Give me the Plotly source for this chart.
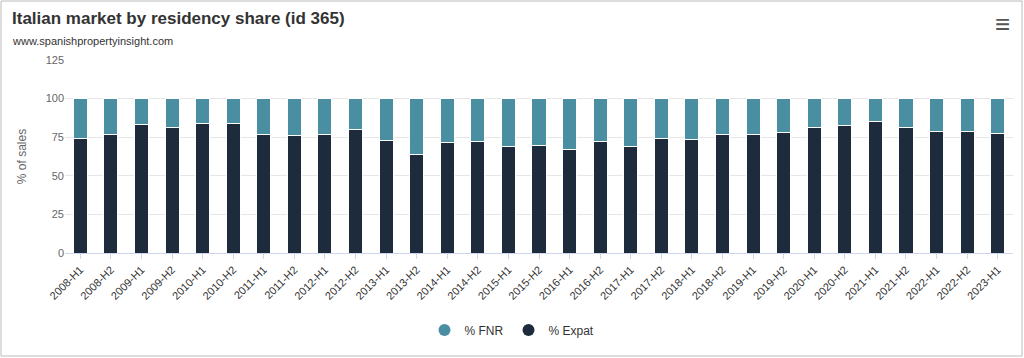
import plotly.graph_objects as go

categories = ["2008-H1","2008-H2","2009-H1","2009-H2","2010-H1","2010-H2","2011-H1","2011-H2",
              "2012-H1","2012-H2","2013-H1","2013-H2","2014-H1","2014-H2","2015-H1","2015-H2",
              "2016-H1","2016-H2","2017-H1","2017-H2","2018-H1","2018-H2","2019-H1","2019-H2",
              "2020-H1","2020-H2","2021-H1","2021-H2","2022-H1","2022-H2","2023-H1"]
expat = [74, 77, 83, 81, 84, 84, 77, 76, 77, 80, 73, 64, 71.5, 72, 69, 69.5,
         67, 72, 69, 74, 73.5, 77, 76.5, 78, 81, 82.5, 85, 81, 78.5, 78.5, 77.5]
fnr = [round(100 - v, 1) for v in expat]

C_EXPAT = "#1d2b3c"
C_FNR = "#4a8fa1"

fig = go.Figure()
fig.add_trace(go.Bar(x=categories, y=expat, name="% Expat", marker=dict(color=C_EXPAT, line=dict(color="#ffffff", width=1)), showlegend=False))
fig.add_trace(go.Bar(x=categories, y=fnr, name="% FNR", marker=dict(color=C_FNR, line=dict(color="#ffffff", width=1)), showlegend=False))
# legend entries with circle symbols
fig.add_trace(go.Scatter(x=[None], y=[None], mode="markers", name="% FNR", marker=dict(color=C_FNR, size=12, symbol="circle")))
fig.add_trace(go.Scatter(x=[None], y=[None], mode="markers", name="% Expat", marker=dict(color=C_EXPAT, size=12, symbol="circle")))

L, R, T, B = 65, 11, 60, 105
W, H = 1024, 358
pw, ph = W - L - R, H - T - B

fig.update_layout(
    width=W, height=H,
    margin=dict(l=L, r=R, t=T, b=B, autoexpand=False),
    barmode="stack", bargap=0.54,
    plot_bgcolor="white", paper_bgcolor="white",
    font=dict(family="Liberation Sans, Arial, sans-serif", color="#333333"),
    showlegend=True,
    legend=dict(orientation="h", x=0.5, xanchor="center", xref="container",
                y=(H - 330) / H, yanchor="middle", yref="container", traceorder="normal",
                font=dict(size=12, color="#333333"), itemsizing="constant"),
    xaxis=dict(type="category", tickangle=-45, tickfont=dict(size=11, color="#333333"),
               showline=True, linecolor="#ccd6eb", linewidth=1, showgrid=False, automargin=False,
               ticks="outside", ticklen=5, tickcolor="#ccd6eb"),
    yaxis=dict(range=[0, 125], dtick=25, gridcolor="#e6e6e6", zeroline=False, automargin=False,
               tickfont=dict(size=11, color="#666666"),
               title=dict(text="% of sales", font=dict(size=12, color="#666666"), standoff=16)),
    annotations=[
        dict(text="<b>Italian market by residency share (id 365)</b>", xref="paper", yref="paper",
             x=(10 - L) / pw, y=(253 - 19) / ph, xanchor="left", yanchor="middle", showarrow=False,
             font=dict(size=17, color="#333333")),
        dict(text="www.spanishpropertyinsight.com", xref="paper", yref="paper",
             x=(10 - L) / pw, y=(253 - 41) / ph, xanchor="left", yanchor="middle", showarrow=False,
             font=dict(size=11, color="#333333")),
        dict(text="≡", xref="paper", yref="paper",
             x=(1002 - L) / pw, y=(253 - 24) / ph, xanchor="center", yanchor="middle", showarrow=False,
             font=dict(size=26, color="#555555")),
    ],
    shapes=[dict(type="rect", xref="paper", yref="paper",
                 x0=(1 - L) / pw, x1=(1022 - L) / pw, y0=(253 - 356) / ph, y1=(253 - 1) / ph,
                 line=dict(color="#bbbbbb", width=1), fillcolor="rgba(0,0,0,0)", layer="below")],
)

fig.write_html("out.html", config={"displayModeBar": False},
               post_script="document.body.style.margin='0px';document.body.style.overflow='hidden';")
